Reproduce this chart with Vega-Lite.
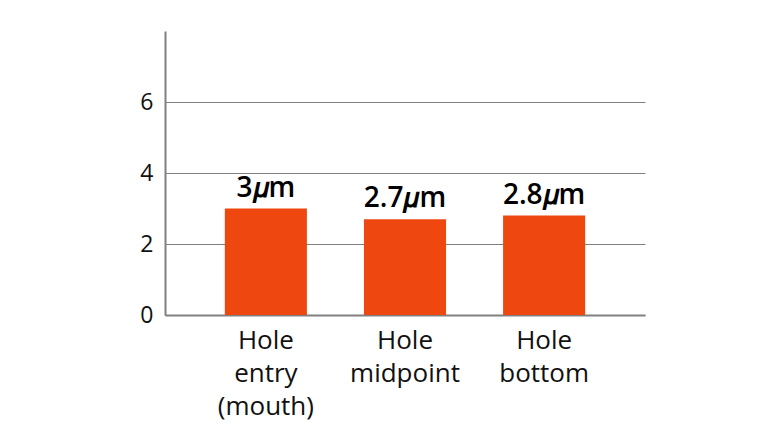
{
  "$schema": "https://vega.github.io/schema/vega-lite/v6.json",
  "width": 480,
  "height": 284,
  "autosize": {"type": "none"},
  "padding": {"left": 165, "top": 31, "right": 123, "bottom": 117},
  "background": "white",
  "config": {"view": {"stroke": null}, "font": "Open Sans"},
  "data": {
    "values": [
      {"loc": "Hole entry (mouth)", "value": 3, "label": "3𝜇m"},
      {"loc": "Hole midpoint", "value": 2.7, "label": "2.7𝜇m"},
      {"loc": "Hole bottom", "value": 2.8, "label": "2.8𝜇m"}
    ]
  },
  "encoding": {
    "x": {
      "field": "loc",
      "type": "nominal",
      "sort": null,
      "scale": {"paddingInner": 0.41, "paddingOuter": 0.43},
      "axis": {
        "title": null,
        "labelAngle": 0,
        "labelExpr": "datum.value == 'Hole entry (mouth)' ? ['Hole','entry','(mouth)'] : datum.value == 'Hole midpoint' ? ['Hole','midpoint'] : ['Hole','bottom']",
        "labelFontSize": 26,
        "labelLineHeight": 33,
        "labelColor": "#111111",
        "labelPadding": 12,
        "ticks": false,
        "domainColor": "#808080",
        "domainWidth": 2,
        "grid": false
      }
    },
    "y": {
      "field": "value",
      "type": "quantitative",
      "scale": {"domain": [0, 8], "nice": false},
      "axis": {
        "title": null,
        "values": [0, 2, 4, 6],
        "labelFontSize": 23,
        "labelColor": "#111111",
        "labelPadding": 12,
        "ticks": false,
        "domainColor": "#808080",
        "domainWidth": 2,
        "gridColor": "#808080",
        "gridWidth": 1,
        "gridOpacity": 1
      }
    }
  },
  "layer": [
    {"mark": {"type": "bar", "color": "#ee4710"}},
    {
      "mark": {"type": "text", "dy": -12, "baseline": "alphabetic", "fontSize": 28, "fontWeight": 600, "color": "#000000"},
      "encoding": {"text": {"field": "label"}}
    }
  ]
}
